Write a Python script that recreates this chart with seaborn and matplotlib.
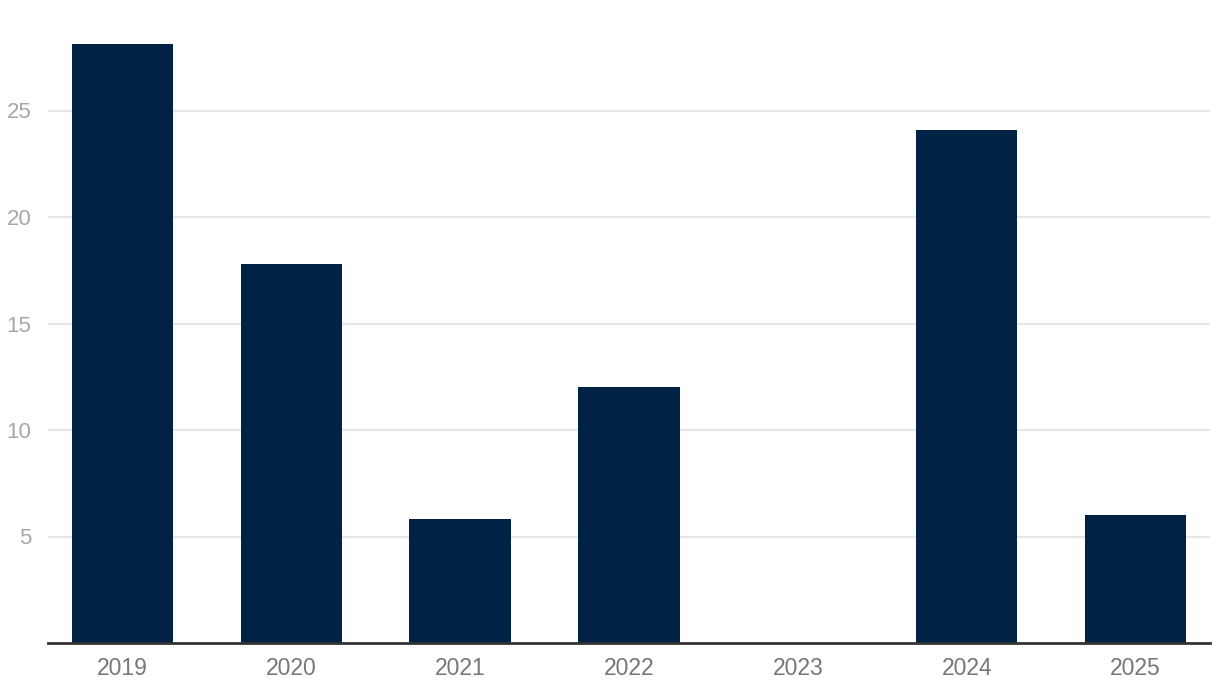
import pandas as pd
import matplotlib.pyplot as plt
import seaborn as sns

# values
years = ["2019", "2020", "2021", "2022", "2023", "2024", "2025"]
values = [28.1, 17.8, 5.8, 12.0, 0.0, 24.1, 6.0]

data = pd.DataFrame({"year": years, "value": values})

sns.set_style("white")
plt.rcParams['font.family'] = ['Liberation Sans', 'DejaVu Sans']

fig = plt.figure(figsize=(12.2, 6.96), dpi=100)
ax = fig.add_axes([48 / 1220, 53 / 696, 1162 / 1220, 639 / 696])

sns.barplot(data=data, x="year", y="value", color="#002245", saturation=1,
            width=0.6, linewidth=0, ax=ax, zorder=3)

ax.set_xlim(-0.44, 6.44)
ax.set_ylim(0, 30)
ax.set_yticks([5, 10, 15, 20, 25])
ax.yaxis.grid(True, color="#e6e6e6", linewidth=1.5, zorder=0)
ax.set_axisbelow(True)

for s in ["top", "right", "left"]:
    ax.spines[s].set_visible(False)
ax.spines["bottom"].set_color("#333333")
ax.spines["bottom"].set_linewidth(2)
ax.spines["bottom"].set_zorder(4)

ax.tick_params(axis="y", length=0, pad=12, labelsize=16, labelcolor="#a6a6a6")
ax.tick_params(axis="x", length=0, pad=10, labelsize=16.5, labelcolor="#777777")
ax.set_xlabel("")
ax.set_ylabel("")

fig.savefig("out.png", dpi=100)
